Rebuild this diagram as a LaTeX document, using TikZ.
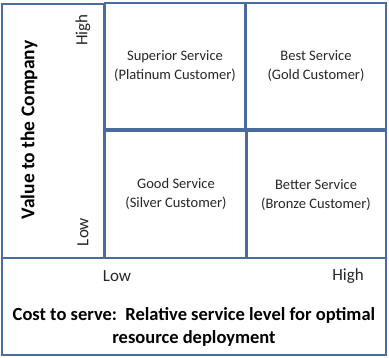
\documentclass[tikz,border=0pt]{standalone}
\usepackage{fontspec}
\setmainfont{Carlito}
\begin{document}
\begin{tikzpicture}[x=1pt,y=-1pt,
  box/.style={draw=frame, line width=2pt, inner sep=0pt, outer sep=0pt},
  quad/.style={font=\fontsize{14.5}{19}\selectfont, text=txt, align=center},
  axl/.style={font=\fontsize{17}{20}\selectfont, text=txt},
  ttl/.style={font=\fontsize{18.5}{23}\selectfont\bfseries, text=black, align=center}]
\definecolor{frame}{HTML}{4A6B9E}
\definecolor{txt}{HTML}{262626}
\useasboundingbox (0,0) rectangle (389,358);
\node[box, minimum width=102pt, minimum height=254pt] (left) at (53,131) {};
\node[box, minimum width=140pt, minimum height=126pt] (q1) at (175,66) {};
\node[box, minimum width=140pt, minimum height=126pt] (q2) at (316,66) {};
\node[box, minimum width=141pt, minimum height=127pt] (q3) at (175.5,194.5) {};
\node[box, minimum width=139pt, minimum height=127pt] (q4) at (316.5,194.5) {};
\node[box, minimum width=384pt, minimum height=97pt] (bot) at (194,306.5) {};
\node[quad] (t1) at (175,66.5) {Superior Service\\(Platinum Customer)};
\node[quad] (t2) at (316,66.5) {Best Service\\(Gold Customer)};
\node[quad] (t3) at (176,193.5) {Good Service\\(Silver Customer)};
\node[quad] (t4) at (316,195) {Better Service\\(Bronze Customer)};
\node[ttl, font=\fontsize{19.5}{23}\selectfont\bfseries, rotate=90] (vy) at (29,130) {Value to the Company};
\node[axl, rotate=90] (hi) at (83,30) {High};
\node[axl, rotate=90] (lo) at (83,232) {Low};
\node[axl] (lx) at (117,276) {Low};
\node[axl] (hx) at (348,276) {High};
\node[ttl] (cx) at (194,327) {Cost to serve:\ \ Relative service level for optimal\\resource deployment};
\end{tikzpicture}
\end{document}
